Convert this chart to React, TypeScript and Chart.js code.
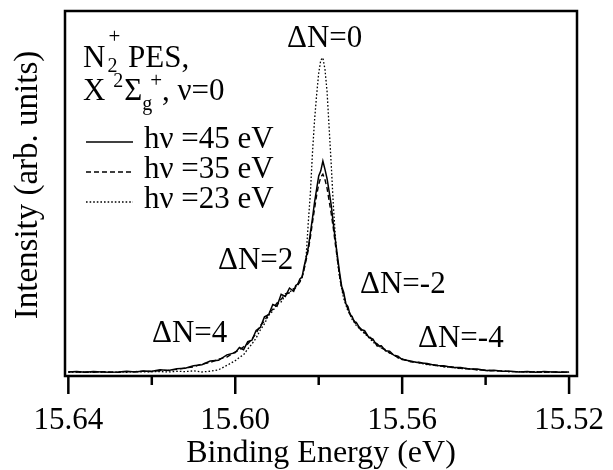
import React, { useEffect, useRef } from 'react';
import { Chart, registerables } from 'chart.js';

Chart.register(...registerables);

const FONT = "'Liberation Serif', 'Times New Roman', serif";

// Binding energy (eV)
const energies = [
  15.640, 15.638, 15.636, 15.634, 15.632, 15.630, 15.628, 15.626, 15.624, 15.622,
  15.620, 15.618, 15.616, 15.614, 15.612, 15.610, 15.608, 15.606, 15.604, 15.602, 15.600,
  15.599, 15.598, 15.597, 15.596, 15.595, 15.594, 15.593, 15.592, 15.591, 15.590,
  15.589, 15.588, 15.587, 15.586,
  15.5855, 15.585, 15.5845, 15.584, 15.5835, 15.583, 15.5825, 15.582, 15.5815, 15.581,
  15.5805, 15.580, 15.5795, 15.579, 15.5785, 15.578, 15.5775, 15.577, 15.5765, 15.576,
  15.5755, 15.575, 15.5745, 15.574, 15.5735, 15.573, 15.5725, 15.572, 15.5715,
  15.571, 15.570, 15.569, 15.568, 15.567, 15.566, 15.565, 15.564, 15.563, 15.562, 15.561, 15.560,
  15.558, 15.556, 15.554, 15.552, 15.550, 15.548, 15.546, 15.544, 15.542, 15.540,
  15.538, 15.536, 15.534, 15.532, 15.530, 15.528, 15.526, 15.524, 15.522, 15.520,
];

// hν = 45 eV (solid)
const intensity45 = [
  0.011, 0.012, 0.010, 0.012, 0.011, 0.010, 0.011, 0.013, 0.011, 0.014,
  0.013, 0.017, 0.015, 0.020, 0.021, 0.028, 0.031, 0.041, 0.043, 0.058, 0.064,
  0.078, 0.072, 0.094, 0.098, 0.125, 0.133, 0.162, 0.168, 0.196, 0.191,
  0.224, 0.218, 0.241, 0.232,
  0.248, 0.252, 0.266, 0.271, 0.300, 0.325, 0.352, 0.392, 0.432, 0.476,
  0.512, 0.548, 0.562, 0.589, 0.566, 0.541, 0.506, 0.468, 0.418, 0.372,
  0.328, 0.284, 0.246, 0.229, 0.198, 0.190, 0.168, 0.163, 0.149,
  0.147, 0.128, 0.124, 0.106, 0.101, 0.082, 0.083, 0.069, 0.068, 0.057, 0.054, 0.045,
  0.041, 0.036, 0.034, 0.029, 0.028, 0.023, 0.023, 0.019, 0.019, 0.015,
  0.016, 0.013, 0.013, 0.011, 0.012, 0.010, 0.012, 0.011, 0.010, 0.011,
];

// hν = 35 eV (dashed)
const intensity35 = [
  0.012, 0.011, 0.011, 0.010, 0.012, 0.011, 0.010, 0.012, 0.012, 0.013,
  0.012, 0.015, 0.016, 0.018, 0.022, 0.025, 0.033, 0.037, 0.046, 0.052, 0.066,
  0.071, 0.080, 0.088, 0.101, 0.117, 0.138, 0.150, 0.172, 0.183, 0.200,
  0.210, 0.225, 0.228, 0.236,
  0.242, 0.250, 0.258, 0.270, 0.292, 0.318, 0.345, 0.380, 0.420, 0.458,
  0.495, 0.525, 0.545, 0.553, 0.538, 0.515, 0.480, 0.445, 0.405, 0.360,
  0.318, 0.275, 0.242, 0.220, 0.200, 0.182, 0.171, 0.158, 0.151,
  0.140, 0.131, 0.118, 0.110, 0.096, 0.088, 0.077, 0.072, 0.063, 0.059, 0.050, 0.047,
  0.039, 0.038, 0.032, 0.030, 0.026, 0.025, 0.021, 0.020, 0.017, 0.016,
  0.014, 0.014, 0.012, 0.012, 0.011, 0.011, 0.010, 0.011, 0.011, 0.010,
];

// hν = 23 eV (dotted)
const intensity23 = [
  0.010, 0.011, 0.011, 0.010, 0.011, 0.010, 0.011, 0.010, 0.012, 0.011,
  0.012, 0.012, 0.011, 0.013, 0.012, 0.014, 0.011, 0.013, 0.017, 0.029, 0.042,
  0.051, 0.058, 0.074, 0.088, 0.104, 0.126, 0.143, 0.166, 0.178, 0.196,
  0.203, 0.221, 0.229, 0.240,
  0.245, 0.252, 0.258, 0.272, 0.292, 0.330, 0.420, 0.500, 0.610, 0.700,
  0.770, 0.830, 0.866, 0.872, 0.840, 0.780, 0.680, 0.580, 0.470, 0.380,
  0.315, 0.270, 0.240, 0.212, 0.195, 0.178, 0.168, 0.155, 0.148,
  0.138, 0.127, 0.116, 0.106, 0.093, 0.085, 0.078, 0.070, 0.063, 0.057, 0.051, 0.046,
  0.040, 0.036, 0.031, 0.030, 0.025, 0.024, 0.020, 0.020, 0.017, 0.015,
  0.015, 0.013, 0.012, 0.012, 0.011, 0.012, 0.010, 0.011, 0.010, 0.011,
];

const majorTicks = [15.64, 15.60, 15.56, 15.52];
const minorTicks = [15.62, 15.58, 15.54];

const seriesLabels = ['hν =45 eV', 'hν =35 eV', 'hν =23 eV'];
const peakLabels = ['ΔN=0', 'ΔN=2', 'ΔN=4', 'ΔN=-2', 'ΔN=-4'];
const yTitle = 'Intensity (arb. units)';

// pixel layout of the annotation labels (left x, baseline y)
const peakLabelPos: [number, number][] = [
  [287, 47], [218, 269], [152, 342], [360, 293], [418, 347],
];

const dashes: number[][] = [[], [5, 3], [1.6, 2]];

const toPoints = (ys: number[]) => energies.map((x, i) => ({ x, y: ys[i] }));

const overlay = {
  id: 'overlay',
  afterDraw(chart: any) {
    const { ctx, chartArea: a, scales } = chart;
    const xs = scales.x;
    ctx.save();
    ctx.strokeStyle = '#000';
    ctx.fillStyle = '#000';
    // frame
    ctx.lineWidth = 2.5;
    ctx.setLineDash([]);
    ctx.strokeRect(a.left, a.top, a.right - a.left, a.bottom - a.top);
    // ticks
    const tick = (v: number, len: number) => {
      const px = xs.getPixelForValue(v);
      ctx.beginPath();
      ctx.moveTo(px, a.bottom);
      ctx.lineTo(px, a.bottom + len);
      ctx.stroke();
    };
    majorTicks.forEach((v) => tick(v, 18));
    minorTicks.forEach((v) => tick(v, 9));

    ctx.textAlign = 'left';
    ctx.textBaseline = 'alphabetic';
    const txt = (s: string, x: number, y: number, size: number) => {
      ctx.font = `${size}px ${FONT}`;
      ctx.fillText(s, x, y);
      return ctx.measureText(s).width;
    };

    // y axis title (rotated)
    ctx.save();
    ctx.translate(37, 185);
    ctx.rotate(-Math.PI / 2);
    ctx.textAlign = 'center';
    ctx.font = `33px ${FONT}`;
    ctx.fillText(yTitle, 0, 0);
    ctx.restore();

    // peak labels
    peakLabels.forEach((s, i) => txt(s, peakLabelPos[i][0], peakLabelPos[i][1], 31));

    // legend title line 1: N2+ PES,
    let x = 83;
    let b = 67;
    x += txt('N', x, b, 31);
    const w2 = txt('2', x + 2, b + 5, 20);
    const wp = txt('+', x + 3, b - 24, 21);
    x += Math.max(w2 + 2, wp + 3);
    txt(' PES,', x, b, 31);

    // line 2: X 2Σg+, ν=0
    x = 83;
    b = 100;
    x += txt('X ', x, b, 31);
    x += txt('2', x, b - 13, 20) + 1;
    x += txt('Σ', x, b, 31);
    const wg = txt('g', x, b + 10, 20);
    const wp2 = txt('+', x + 8, b - 13, 21);
    x += Math.max(wg, wp2 + 8);
    txt(', ν=0', x, b, 31);

    // legend entries
    const lineY = [142, 172, 202];
    const textY = [148, 178, 208];
    seriesLabels.forEach((s, i) => {
      ctx.lineWidth = i === 2 ? 1.3 : 1.5;
      ctx.setLineDash(dashes[i]);
      ctx.beginPath();
      ctx.moveTo(86, lineY[i]);
      ctx.lineTo(133, lineY[i]);
      ctx.stroke();
      ctx.setLineDash([]);
      txt(s, 144, textY[i], 31);
    });
    ctx.restore();
  },
};

export default function App() {
  const ref = useRef<HTMLCanvasElement>(null);
  useEffect(() => {
    const chart = new Chart(ref.current as HTMLCanvasElement, {
      type: 'line',
      data: {
        datasets: [
          {
            label: seriesLabels[2],
            data: toPoints(intensity23),
            borderColor: '#000',
            borderWidth: 1.3,
            borderDash: dashes[2],
            pointRadius: 0,
            fill: false,
          },
          {
            label: seriesLabels[1],
            data: toPoints(intensity35),
            borderColor: '#000',
            borderWidth: 1.4,
            borderDash: dashes[1],
            pointRadius: 0,
            fill: false,
          },
          {
            label: seriesLabels[0],
            data: toPoints(intensity45),
            borderColor: '#000',
            borderWidth: 1.5,
            pointRadius: 0,
            fill: false,
          },
        ],
      },
      options: {
        responsive: false,
        animation: false,
        layout: { padding: { left: 0, top: 11, right: 36, bottom: 0 } },
        plugins: { legend: { display: false }, tooltip: { enabled: false } },
        elements: { line: { tension: 0 } },
        scales: {
          x: {
            type: 'linear',
            reverse: true,
            min: 15.5181,
            max: 15.6408,
            afterBuildTicks: (s: any) => {
              s.ticks = majorTicks.map((v) => ({ value: v }));
            },
            afterFit: (s: any) => {
              s.height = 94;
              s.paddingLeft = 0;
              s.paddingRight = 0;
            },
            grid: { display: false, drawTicks: false },
            border: { display: false },
            ticks: {
              padding: 26,
              color: '#000',
              autoSkip: false,
              maxRotation: 0,
              font: { family: FONT, size: 31 },
              callback: (v: any) => Number(v).toFixed(2),
            },
            title: {
              display: true,
              text: 'Binding Energy (eV)',
              color: '#000',
              font: { family: FONT, size: 32, lineHeight: 1 },
              padding: { top: 0, bottom: 0 },
            },
          },
          y: {
            min: 0,
            max: 1,
            ticks: { display: false },
            grid: { display: false },
            border: { display: false },
            afterFit: (s: any) => {
              s.width = 65;
            },
            title: { display: false },
          },
        },
      },
      plugins: [overlay],
    } as any);
    return () => chart.destroy();
  }, []);
  return (
    <div style={{ position: 'fixed', left: 0, top: 0, width: 613, height: 470, background: '#fff' }}>
      <canvas ref={ref} width={613} height={470} />
    </div>
  );
}
